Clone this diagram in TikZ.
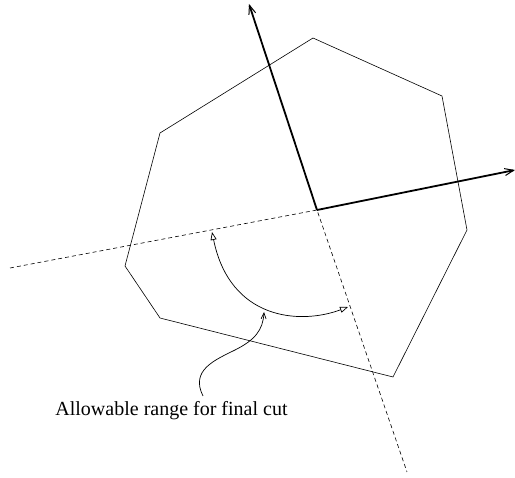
\documentclass[tikz,border=0pt]{standalone}
\usepackage{fontspec}
\setmainfont{Liberation Serif}
\usetikzlibrary{arrows.meta}
\begin{document}
\begin{tikzpicture}[x=1pt,y=-1pt,
  thin line/.style={line width=0.6pt},
  axis/.style={line width=1.8pt,-{Straight Barb[length=9pt,width=7pt,line width=1pt]}},
  cutline/.style={line width=0.6pt,dash pattern=on 4pt off 3pt},
  rangearc/.style={line width=0.7pt,{Triangle[open,length=8pt,width=6pt]}-{Triangle[open,length=8pt,width=6pt]}},
  pointer/.style={line width=0.7pt,-{Straight Barb[length=6pt,width=5pt]}}]
\useasboundingbox (0,0) rectangle (515,478);
\coordinate (p1) at (313,38);
\coordinate (p2) at (442,96);
\coordinate (p3) at (467,230);
\coordinate (p4) at (393,377);
\coordinate (p5) at (160,318);
\coordinate (p6) at (125,266);
\coordinate (p7) at (160,133);
\draw[thin line] (p1) -- (p2) -- (p3) -- (p4) -- (p5) -- (p6) -- (p7) -- cycle;
\coordinate (c) at (317,210);
\coordinate (ytip) at (249,4);
\coordinate (xtip) at (515,170);
\coordinate (d1) at (10,268);
\coordinate (d2) at (407,472);
\draw[cutline] (d1) -- (c) -- (d2);
\draw[axis] (c) -- (ytip);
\draw[axis] (c) -- (xtip);
\coordinate (a1) at (212,232);
\coordinate (a2) at (348,307);
\draw[rangearc] (a1) .. controls (230,320) and (300,325) .. (a2);
\node[font=\fontsize{20}{24}\selectfont,anchor=base,inner sep=0pt] (lbl) at (171.5,416) {Allowable range for final cut};
\coordinate (ptip) at (264,312);
\draw[pointer] (203,396) .. controls (190,370) and (215,360) .. (235,350) .. controls (255,340) and (263,330) .. (ptip);
\end{tikzpicture}
\end{document}
